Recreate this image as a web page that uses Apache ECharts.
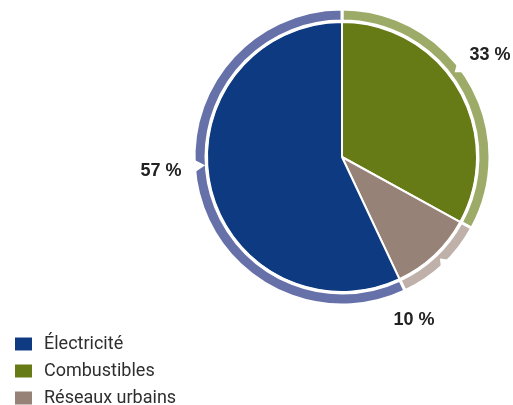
<!DOCTYPE html>
<html>
<head>
<meta charset="utf-8">
<script src="https://cdn.jsdelivr.net/npm/echarts@6/dist/echarts.min.js"></script>
<style>
  html, body { margin: 0; padding: 0; background: #fff; }
  #chart { width: 513px; height: 405px; }
</style>
</head>
<body>
<div id="chart"></div>
<script>
// Energy mix shares (%), in drawing order clockwise from 12 o'clock
const categories = ['Combustibles', 'Réseaux urbains', 'Électricité'];
const shares = [33, 10, 57];
const legendOrder = ['Électricité', 'Combustibles', 'Réseaux urbains'];

// Slice and ring colours
const sliceColors = ['#667a15', '#978278', '#0e3a82'];
const ringColors = ['#9cab68', '#bfb1a9', '#6771a9'];

// Layout constants
const CX = 342, CY = 157;
const labelSpots = [[490, 55], [414, 320], [161, 171]];
const notchAngles = [53, 136, 266.5];   // degrees, clockwise from top
const notchTips = [141, 141, 137];

const chart = echarts.init(document.getElementById('chart'), null, { renderer: 'canvas' });

function polar(r, deg) {
  const a = deg * Math.PI / 180;
  return [CX + r * Math.sin(a), CY - r * Math.cos(a)];
}

// small white notches cut into the outer ring
const notches = notchAngles.map((ang, i) => ({
  type: 'polygon',
  z: 100,
  silent: true,
  shape: { points: [polar(notchTips[i], ang), polar(153, ang - 3.4), polar(153, ang + 3.4)] },
  style: { fill: '#ffffff' }
}));

const pieData = categories.map((name, i) => ({
  name, value: shares[i], itemStyle: { color: sliceColors[i] }
}));
const ringData = categories.map((name, i) => ({
  name, value: shares[i], itemStyle: { color: ringColors[i] }
}));

chart.setOption({
  animation: false,
  backgroundColor: '#ffffff',
  legend: {
    data: legendOrder,
    orient: 'vertical',
    left: 13,
    top: 335,
    height: 120,
    padding: 0,
    itemWidth: 19,
    itemHeight: 15,
    itemGap: 9,
    icon: 'rect',
    textStyle: {
      fontFamily: '"Liberation Sans Narrow", "Roboto", sans-serif',
      fontSize: 18,
      color: '#2e2e2e',
      padding: [0, 0, 0, 6]
    },
    selectedMode: false
  },
  graphic: notches,
  series: [
    {
      type: 'pie',
      name: 'parts',
      center: [CX, CY],
      radius: [0, 135],
      startAngle: 90,
      clockwise: true,
      silent: true,
      itemStyle: { borderColor: '#ffffff', borderWidth: 2 },
      label: {
        show: true,
        position: 'outside',
        formatter: '{c} %',
        overflow: 'none',
        fontFamily: '"Liberation Sans", Arial, sans-serif',
        fontWeight: 'bold',
        fontSize: 18,
        color: '#222222'
      },
      labelLine: { show: false },
      labelLayout: (p) => ({
        x: labelSpots[p.dataIndex][0],
        y: labelSpots[p.dataIndex][1],
        align: 'center',
        verticalAlign: 'middle',
        hideOverlap: false
      }),
      data: pieData
    },
    {
      type: 'pie',
      name: 'ring',
      center: [CX, CY],
      radius: [136, 148],
      startAngle: 90,
      clockwise: true,
      silent: true,
      legendHoverLink: false,
      itemStyle: { borderColor: '#ffffff', borderWidth: 3 },
      label: { show: false },
      labelLine: { show: false },
      data: ringData
    }
  ]
});
</script>
</body>
</html>
